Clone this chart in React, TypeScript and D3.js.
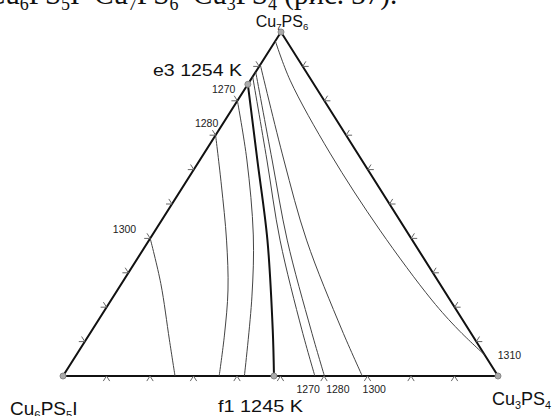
import React, { useEffect, useRef } from 'react';
import * as d3 from 'd3';

// compositions are [x(Cu3PS4), x(Cu7PS6)], Cu6PS5I is the remainder
const tickFractions = [0.1, 0.2, 0.3, 0.4, 0.5, 0.6, 0.7, 0.8, 0.9];

const valley = [[0, 0.848], [0.132, 0.628], [0.272, 0.395], [0.415, 0.134], [0.485, 0]];

const iso1270Left = [[0, 0.8], [0.108, 0.628], [0.232, 0.41], [0.319, 0.23], [0.417, 0]];
const iso1280Left = [[0, 0.7], [0.086, 0.555], [0.178, 0.395], [0.254, 0.25], [0.3115, 0.119], [0.359, 0]];
const iso1300Left = [[0, 0.4], [0.09, 0.269], [0.192, 0.105], [0.2575, 0]];

const iso1270Right = [[0, 0.87], [0.154, 0.628], [0.301, 0.395], [0.482, 0.134], [0.579, 0]];
const iso1280Right = [[0, 0.884], [0.166, 0.628], [0.3175, 0.395], [0.503, 0.134], [0.601, 0]];
const iso1300Right = [[0, 0.905], [0.193, 0.628], [0.362, 0.395], [0.574, 0.134], [0.688, 0]];
const iso1310 = [[0, 0.974], [0.091, 0.86], [0.289, 0.648], [0.516, 0.424], [0.737, 0.221], [0.842, 0.134], [0.939, 0.061]];

const e3 = [0, 0.848];
const f1 = [0.485, 0];

const App = () => {
  const svgRef = useRef(null);

  useEffect(() => {
    const width = 553;
    const height = 416;
    const svg = d3.select(svgRef.current).attr('width', width).attr('height', height);
    svg.selectAll('*').remove();

    const left = { x: 63, y: 376 };
    const top = { x: 281, y: 32 };
    const right = { x: 498, y: 376 };

    const xb = d3.scaleLinear().domain([0, 1]).range([0, right.x - left.x]);
    const xc = d3.scaleLinear().domain([0, 1]).range([0, top.x - left.x]);
    const yc = d3.scaleLinear().domain([0, 1]).range([left.y, top.y]);
    const px = (d) => left.x + xb(d[0]) + xc(d[1]);
    const py = (d) => yc(d[1]);

    const line = d3.line().x(px).y(py).curve(d3.curveCatmullRom.alpha(0.5));
    const edgeLine = d3.line().x(px).y(py).curve(d3.curveLinearClosed);

    // edges
    svg.append('path')
      .attr('d', edgeLine([[0, 0], [1, 0], [0, 1]]))
      .attr('fill', 'none')
      .attr('stroke', '#111')
      .attr('stroke-width', 2);

    // ticks as chevrons, legs along the other two grid directions, outside
    const norm = (v) => { const l = Math.hypot(v[0], v[1]); return [v[0] / l, v[1] / l]; };
    const uLT = norm([top.x - left.x, top.y - left.y]);
    const uRT = norm([top.x - right.x, top.y - right.y]);
    const len = 6;
    const chev = (p, a, b) => `M${p[0] + a[0] * len},${p[1] + a[1] * len}L${p[0]},${p[1]}L${p[0] + b[0] * len},${p[1] + b[1] * len}`;
    const tickPaths = [];
    tickFractions.forEach((f) => {
      const pl = [0, f];
      tickPaths.push(chev([px(pl), py(pl)], [-1, 0], uRT));
      const pr = [1 - f, f];
      tickPaths.push(chev([px(pr), py(pr)], [1, 0], uLT));
      const pb = [f, 0];
      tickPaths.push(chev([px(pb), py(pb)], [-uLT[0], -uLT[1]], [-uRT[0], -uRT[1]]));
    });
    svg.append('g').selectAll('path').data(tickPaths).enter().append('path')
      .attr('d', (d) => d)
      .attr('fill', 'none')
      .attr('stroke', '#666')
      .attr('stroke-width', 1);

    const thin = [iso1270Left, iso1280Left, iso1300Left, iso1270Right, iso1280Right, iso1300Right, iso1310];
    svg.append('g').selectAll('path').data(thin).enter().append('path')
      .attr('d', line)
      .attr('fill', 'none')
      .attr('stroke', '#444')
      .attr('stroke-width', 1);

    svg.append('path')
      .attr('d', line(valley))
      .attr('fill', 'none')
      .attr('stroke', '#111')
      .attr('stroke-width', 2);

    // points
    svg.append('g').selectAll('circle').data([[0, 0], [1, 0], [0, 1], e3, f1]).enter().append('circle')
      .attr('cx', px).attr('cy', py).attr('r', 3)
      .attr('fill', '#aaa').attr('stroke', '#888').attr('stroke-width', 1);

    const font = 'Arial, "Liberation Sans", Helvetica, sans-serif';
    const small = [
      { t: '1270', x: px(iso1270Left[0]) - 2, y: py(iso1270Left[0]) - 7.5, a: 'end' },
      { t: '1280', x: px(iso1280Left[0]) + 2.7, y: py(iso1280Left[0]) - 8.5, a: 'end' },
      { t: '1300', x: px(iso1300Left[0]) - 14, y: py(iso1300Left[0]) - 5, a: 'end' },
      { t: '1270', x: px(iso1270Right[4]) - 6.7, y: 393, a: 'middle' },
      { t: '1280', x: px(iso1280Right[4]) + 13.4, y: 393, a: 'middle' },
      { t: '1300', x: px(iso1300Right[4]) + 12, y: 393, a: 'middle' },
      { t: '1310', x: px(iso1310[6]) + 13, y: 359, a: 'start' },
    ];
    svg.append('g').selectAll('text').data(small).enter().append('text')
      .attr('x', (d) => d.x).attr('y', (d) => d.y)
      .attr('text-anchor', (d) => d.a)
      .attr('font-family', font).attr('font-size', 10.5).attr('fill', '#222')
      .text((d) => d.t);

    svg.append('text').attr('x', 153).attr('y', 76).attr('font-family', font).attr('font-size', 17)
      .attr('textLength', 89).attr('lengthAdjust', 'spacingAndGlyphs').attr('fill', '#111').text('e3 1254 K');
    svg.append('text').attr('x', 218).attr('y', 412).attr('font-family', font).attr('font-size', 17)
      .attr('textLength', 85).attr('lengthAdjust', 'spacingAndGlyphs').attr('fill', '#111').text('f1 1245 K');

    // chemical formulas: subscripts shifted down, next part shifted back up
    const formula = (x, y, parts, size, family, anchor = 'start', subSize = size * 0.6, shift = size * 0.2) => {
      const t = svg.append('text').attr('x', x).attr('y', y).attr('text-anchor', anchor)
        .attr('font-family', family).attr('font-size', size).attr('fill', '#111');
      let cur = 0;
      parts.forEach(([s, sub]) => {
        const want = sub ? shift : 0;
        t.append('tspan').attr('font-size', sub ? subSize : size).attr('dy', want - cur).text(s);
        cur = want;
      });
      return t;
    };
    formula(282, 27, [['Cu'], ['7', 1], ['PS'], ['6', 1]], 16, font, 'middle');
    formula(492, 405, [['Cu'], ['3', 1], ['PS'], ['4', 1]], 18, font);
    formula(10, 415, [['Cu'], ['6', 1], ['PS'], ['5', 1], ['I']], 19, font);

    // clipped caption line from the page above
    formula(-14, 4,
      [['Cu'], ['6', 1], ['PS'], ['5', 1], ['I–Cu'], ['7', 1], ['PS'], ['6', 1], ['–Cu'], ['3', 1], ['PS'], ['4', 1], [' (рис. 37).']],
      29, '"Liberation Serif", "Times New Roman", serif', 'start', 18, 6);
  }, []);

  return (
    <div style={{ position: 'absolute', left: 0, top: 0, width: 553, height: 416, background: '#fff' }}>
      <svg ref={svgRef} style={{ display: 'block' }} />
    </div>
  );
};

export default App;
